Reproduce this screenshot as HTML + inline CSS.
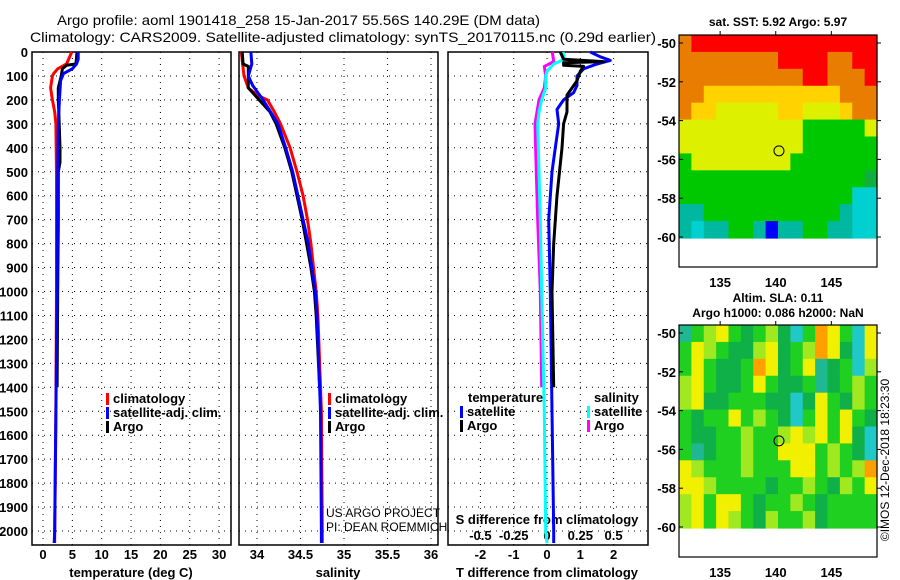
<!DOCTYPE html>
<html><head><meta charset="utf-8">
<style>
html,body{margin:0;padding:0;background:#fff;}
svg{display:block;font-family:"Liberation Sans",sans-serif;}
</style></head>
<body>
<svg id="c" width="900" height="580" viewBox="0 0 900 580">
<text x="57" y="25" font-size="14" textLength="483" lengthAdjust="spacingAndGlyphs">Argo profile: aoml 1901418_258 15-Jan-2017 55.56S 140.29E (DM data)</text>
<text x="30" y="42" font-size="14" textLength="626" lengthAdjust="spacingAndGlyphs">Climatology: CARS2009. Satellite-adjusted climatology: synTS_20170115.nc (0.29d earlier)</text>
</svg>
<script>
// ---------- data ----------
const depthTicks=[0,100,200,300,400,500,600,700,800,900,1000,1100,1200,1300,1400,1500,1600,1700,1800,1900,2000];
const tempTicks=[0,5,10,15,20,25,30];
const salTicks=[34,34.5,35,35.5,36];
const tdiffTicks=[-2,-1,0,1,2];
const sdiffTickLabels=["-0.5","-0.25","0","0.25","0.5"];
const climTdep=[0,50,70,90,100,150,200,250,300,500,1000,1500,2000,2050];
const climT=[4.9,4.0,2.5,1.8,1.6,1.3,1.6,2.0,2.2,2.3,2.3,2.2,2.0,2.0];
const argoTdep=[0,50,55,70,100,150,200,250,400,460,500,700,1000,1400];
const argoT=[5.8,5.6,4.0,3.3,3.1,2.6,2.6,2.7,2.9,2.9,2.6,2.6,2.5,2.4];
const satTdep=[0,30,50,70,90,120,200,300,500,1000,1500,2000,2050];
const satT=[6.0,6.0,5.7,5.0,3.5,3.0,2.8,2.6,2.5,2.4,2.2,2.0,1.9];
const climSdep=[0,100,150,180,200,250,300,400,500,600,700,800,900,1000,1100,1500,2000,2050];
const climS=[33.82,33.85,33.9,34.0,34.12,34.2,34.27,34.38,34.46,34.53,34.58,34.62,34.65,34.68,34.70,34.74,34.75,34.75];
const argoSdep=[0,50,60,150,190,250,300,400,500,600,700,800,900,1000,1100,1400];
const argoS=[33.83,33.84,33.9,33.9,34.0,34.15,34.22,34.32,34.4,34.46,34.52,34.57,34.62,34.66,34.68,34.72];
const satSdep=[0,50,100,140,200,300,400,500,600,700,800,1000,1100,1500,2000,2050];
const satS=[33.93,33.94,33.9,33.95,34.07,34.24,34.33,34.41,34.47,34.53,34.59,34.67,34.69,34.73,34.74,34.74];
const satTdiffDep=[0,20,35,50,70,100,140,170,200,240,300,400,500,700,1000,1500,2000,2050];
const satTdiff=[1.3,1.6,1.9,1.5,1.1,0.9,0.9,0.8,0.5,0.3,0.35,0.25,0.15,0.05,0.1,0.15,0.2,0.2];
const argoTdiffDep=[0,30,40,45,55,60,80,120,180,250,300,400,600,800,1000,1400];
const argoTdiff=[0.4,0.5,1.7,0.5,0.5,1.1,1.0,0.9,0.6,0.6,0.5,0.45,0.3,0.2,0.15,0.2];
const argoSdiffDep=[0,40,60,100,150,200,300,500,700,1000,1400];
const argoSdiff=[0.04,0.05,-0.02,-0.01,-0.02,-0.06,-0.09,-0.08,-0.07,-0.05,-0.04];
const satSdiffDep=[0,30,50,80,100,150,200,250,300,500,700,1000,1500,2000,2050];
const satSdiff=[0.12,0.13,0.05,0.0,-0.01,-0.01,-0.04,-0.06,-0.07,-0.06,-0.05,-0.04,-0.02,-0.01,0.0];
const lonTicks=[135,140,145];
const latTicks=[-50,-52,-54,-56,-58,-60];
const argoLon=140.29, argoLat=-55.56;
const sstGrid=[
"ORRRRRRRRRRRRRRR",
"OOOOOOOORRRROORR",
"OOOOOOOOOORROOOR",
"OOYYYYYYYYYYYOOO",
"OYYLLLLLYYLLLYOO",
"LLLLLLLLLLGGGGGL",
"LLLLLLLLLLGGGGGG",
"GLLLLLLLLGGGGGGG",
"GGGGGGGGGGGGGGGD",
"GGGGGGGGGGGGGGCC",
"TTGGGGGGGGGGGTCC",
"TCTTGGTBTTGGTTCC"];
const slaGrid=[
"TGLYGDGLDCGOYGCY",
"GYLGDDLYDGLOYDCY",
"GYGDDGOYDGYTDGCL",
"LYGDDGYGDDGTDGLG",
"LYDDGGGDDCDYGDLG",
"GDGGYGLGDCGYGYGD",
"GDDGGLGGLYLYGYDC",
"GTDGGLGGYYYGLGDC",
"YLGGGLGGGYYGLGLO",
"YYLGGGGDGGLGDLGY",
"LYGYYGDGGLGDGGGG",
"LYGYLGDLGGLDGGGG"];
// ---------- drawing ----------
const NS="http://www.w3.org/2000/svg";
const svg=document.getElementById('c');
function mk(tag,attrs,parent){const e=document.createElementNS(NS,tag);for(const k in attrs)e.setAttribute(k,attrs[k]);(parent||svg).appendChild(e);return e;}
function txt(x,y,s,size,anchor,parent,weight){const e=mk('text',{x:x,y:y,'font-size':size,'text-anchor':anchor||'start','font-weight':weight||'bold'},parent);e.textContent=s;return e;}
const Y0=52, PXD=0.2395, YB=545;
const yD=d=>Y0+d*PXD;
const panels=[
 {name:'temperature-panel',x0:32,x1:231,xs:v=>43+5.87*v},
 {name:'salinity-panel',x0:239,x1:438,xs:v=>257+87*(v-34)},
 {name:'difference-panel',x0:448,x1:648,xs:v=>547+33.3*v}];
const sx=v=>547+133.3*v;
panels.forEach((p,i)=>{
 const g=mk('g',{});
 
 
 depthTicks.forEach(d=>{const l=mk('line',{x1:p.x0,x2:p.x1,y1:yD(d),y2:yD(d),stroke:'#000','stroke-dasharray':'1,5','stroke-width':1},g);
  });
 const vt=i==0?tempTicks:i==1?salTicks:tdiffTicks;
 vt.forEach(v=>{const x=p.xs(v);const l=mk('line',{x1:x,x2:x,y1:Y0,y2:YB,stroke:'#000','stroke-dasharray':'1,5','stroke-width':1},g);
  
  const t=txt(x,559,String(v),13,'middle',g);});
 const r=mk('rect',{x:p.x0,y:Y0,width:p.x1-p.x0,height:YB-Y0,fill:'none',stroke:'#000','stroke-width':1.5},g);
 
});
depthTicks.forEach(d=>{const t=txt(28,yD(d)+5,String(d),13,'end');});
let at=txt(131,577,'temperature (deg C)',13,'middle');
at=txt(338,577,'salinity',13,'middle');
at=txt(547,577,'T difference from climatology',13,'middle');
at=txt(547,524,'S difference from climatology',13,'middle');
tdiffTicks.forEach((v,i)=>{const t=txt(panels[2].xs(v),540,sdiffTickLabels[i],13,'middle');});
function prof(xs,deps,vals,color,name,w){let d='';deps.forEach((dp,i)=>{d+=(i?'L':'M')+xs(vals[i]).toFixed(1)+','+yD(dp).toFixed(1);});
 const p=mk('path',{d:d,fill:'none',stroke:color,'stroke-width':w||3,'stroke-linejoin':'round'});
 }
prof(panels[0].xs,climTdep,climT,'#ff0000','temp-climatology-line');
prof(panels[0].xs,argoTdep,argoT,'#000','temp-argo-line');
prof(panels[0].xs,satTdep,satT,'#0000ff','temp-satellite-line');
prof(panels[1].xs,climSdep,climS,'#ff0000','sal-climatology-line');
prof(panels[1].xs,argoSdep,argoS,'#000','sal-argo-line');
prof(panels[1].xs,satSdep,satS,'#0000ff','sal-satellite-line');
prof(sx,argoSdiffDep,argoSdiff,'#ff00ff','sdiff-argo-line');
prof(sx,satSdiffDep,satSdiff,'#00ffff','sdiff-satellite-line');
prof(panels[2].xs,satTdiffDep,satTdiff,'#0000ff','tdiff-satellite-line');
prof(panels[2].xs,argoTdiffDep,argoTdiff,'#000','tdiff-argo-line');
function leg(x,y,color,label,name){const g=mk('g',{});
 mk('rect',{x:x,y:y-10,width:3,height:12,fill:color},g);txt(x+7,y,label,13,'start',g);}
leg(106,403,'#ff0000','climatology','legend-climatology');
leg(106,417,'#0000ff','satellite-adj. clim.','legend-satellite-adj');
leg(106,431,'#000','Argo','legend-argo');
leg(328,403,'#ff0000','climatology','legend-sal-climatology');
leg(328,417,'#0000ff','satellite-adj. clim.','legend-sal-satellite-adj');
leg(328,431,'#000','Argo','legend-sal-argo');
at=txt(468,402,'temperature',13,'start');
at=txt(594,402,'salinity',13,'start');
leg(460,416,'#0000ff','satellite','legend-tdiff-satellite');
leg(460,430,'#000','Argo','legend-tdiff-argo');
leg(587,416,'#00ffff','satellite','legend-sdiff-satellite');
leg(587,430,'#ff00ff','Argo','legend-sdiff-argo');
at=txt(326,517,'US ARGO PROJECT',12,'start',null,'normal');
at=txt(326,531,'PI: DEAN ROEMMICH',12,'start',null,'normal');
const colors={R:'#ff0000',O:'#e87d00',Y:'#ffd200',L:'#dcf000',G:'#00c800',D:'#10b040',C:'#00d0d0',T:'#00b8a0',B:'#0000ff'};
const slaColors={G:'#20d020',D:'#10b048',Y:'#f0f000',L:'#a0e820',O:'#ffa000',C:'#20c8c8',T:'#20b890'};
function map(top,grid,cmap,name,title1,title2){
 const x0=679,x1=877,yTop=top,yData=top+203,yBot=top+232;
 const lonX=l=>x0+(l-131.3)*11.12;
 const latY=l=>top+8+(-50-l)*19.4;
 const g=mk('g',{});
 const rows=grid.length,cols=grid[0].length;
 const cw=(x1-x0)/cols,ch=(yData-yTop)/rows;
 grid.forEach((row,r)=>{for(let c=0;c<cols;c++){const cell=mk('rect',{x:(x0+c*cw).toFixed(2),y:(yTop+r*ch).toFixed(2),width:(cw+0.6).toFixed(2),height:(ch+0.6).toFixed(2),fill:cmap[row[c]]},g);
  }});
 const fr=mk('rect',{x:x0,y:yTop,width:x1-x0,height:yBot-yTop,fill:'none',stroke:'#000','stroke-width':1.2},g);
 
 latTicks.forEach(l=>{const y=latY(l);mk('line',{x1:x0,x2:x0+4,y1:y,y2:y,stroke:'#000'},g);mk('line',{x1:x1,x2:x1+4,y1:y,y2:y,stroke:'#000'},g);
  const t=txt(x0-3,y+5,String(l),13,'end',g);});
 lonTicks.forEach(l=>{const x=lonX(l);mk('line',{x1:x,x2:x,y1:yTop-4,y2:yTop,stroke:'#000'},g);
  const t=txt(x,yBot+20,String(l),13,'middle',g);});
 const ci=mk('circle',{cx:lonX(argoLon),cy:latY(argoLat),r:5,fill:'none',stroke:'#000','stroke-width':1},g);
 
 const cx=(x0+x1)/2;
 if(title2){txt(cx,top-23,title1,12,'middle',g);txt(cx,top-8,title2,12,'middle',g);}
 else txt(cx,top-9,title1,12,'middle',g);
}
map(35,sstGrid,colors,'sst-map','sat. SST: 5.92 Argo: 5.97');
map(325,slaGrid,slaColors,'sla-map','Altim. SLA: 0.11','Argo h1000: 0.086 h2000: NaN');
const ts=mk('text',{x:0,y:0,'font-size':12,'text-anchor':'middle',transform:'translate(889,460) rotate(-90)'});
ts.textContent='©IMOS 12-Dec-2018 18:23:30';


</script>
</body></html>
